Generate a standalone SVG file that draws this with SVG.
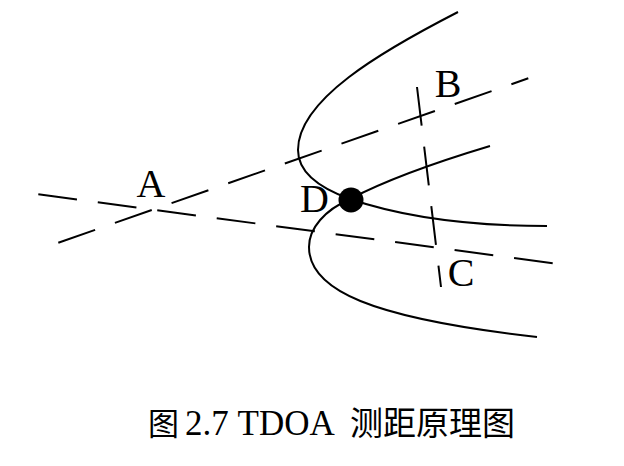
<svg xmlns="http://www.w3.org/2000/svg" width="624" height="466" viewBox="0 0 624 466">
<style>
.dash{fill:none;stroke:#000;stroke-width:2;stroke-dasharray:39 21}
.curve{fill:none;stroke:#000;stroke-width:2}
.lbl{font-family:"Liberation Serif","Times New Roman",serif;font-size:40px;fill:#000;text-anchor:middle}
.title{font-family:"Liberation Serif","Noto Sans CJK SC",serif;font-size:35px;fill:#000}
.cjk{font-family:"Noto Sans CJK SC","Liberation Serif",sans-serif;font-size:33px}
</style>
<rect width="624" height="466" fill="#fff"/>
<g id="connectors">
  <line class="dash" x1="58.3" y1="242.7" x2="528.3" y2="78.3"/>
  <line class="dash" x1="38.3" y1="194.3" x2="553.3" y2="263.3"/>
  <line class="dash" x1="417" y1="87" x2="441" y2="287"/>
</g>
<g id="hyperbolas">
  <path class="curve" d="M458,12 C380,52 298,100 298,150 C298,175 325,190 350,199 C400,216 460,226 547,226"/>
  <path class="curve" d="M490,146 C450,158 390,178 350,199 C325,210 309,228 309,247 C309,290 370,318 537,337"/>
</g>
<g id="nodeA"><text class="lbl" x="151" y="197">A</text></g>
<g id="nodeB"><text class="lbl" x="448" y="97">B</text></g>
<g id="nodeC"><text class="lbl" x="461" y="286">C</text></g>
<g id="nodeD">
  <circle cx="351" cy="200" r="12.5" fill="#000"/>
  <text class="lbl" x="314.5" y="212">D</text>
</g>
<g id="caption">
  <text class="title" y="435"><tspan class="cjk" x="148" style="font-size:31px">图</tspan><tspan x="185">2.7 TDOA</tspan><tspan class="cjk" x="350">测距原理图</tspan></text>
</g>
</svg>
